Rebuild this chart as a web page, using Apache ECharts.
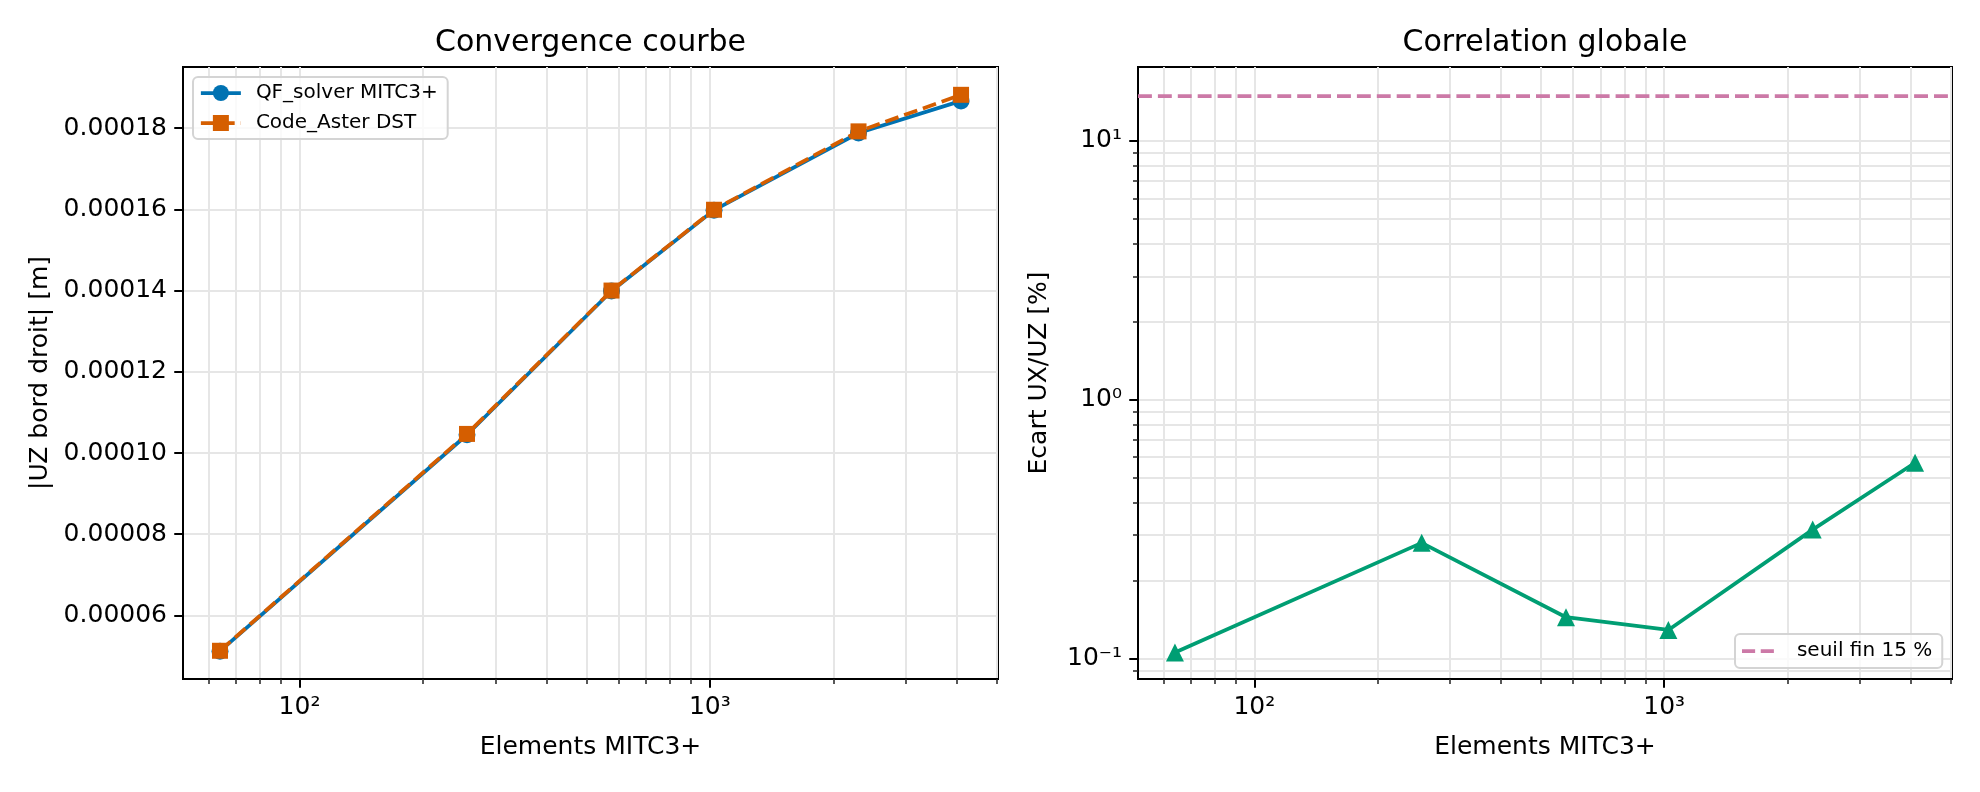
<!DOCTYPE html>
<html><head><meta charset="utf-8">
<script src="https://cdn.jsdelivr.net/npm/echarts@6/dist/echarts.min.js"></script>
<style>html,body{margin:0;padding:0;background:#fff}#c{width:1980px;height:792px}</style>
</head><body><div id="c"></div>
<script>
// ---- data ----
const ELEMENTS = [64, 256, 576, 1024, 2304, 4096];
const QF_UZ = [5.12e-5, 1.045e-4, 1.399e-4, 1.598e-4, 1.788e-4, 1.867e-4];
const CA_UZ = [5.13e-5, 1.047e-4, 1.400e-4, 1.599e-4, 1.792e-4, 1.882e-4];
const ECART = [0.1055, 0.28, 0.1445, 0.129, 0.315, 0.571];
const THRESHOLD = 15;
// ---- axis limits & ticks ----
const X_MIN = 52, X_MAX = 5040;
const X_TICKS = [100, 1000];
const X_TICK_LABELS = ['10²', '10³'];
const X_MINOR = [60, 70, 80, 90, 200, 300, 400, 500, 600, 700, 800, 900, 2000, 3000, 4000, 5000];
const YL_MIN = 4.435e-5, YL_MAX = 1.9505e-4;
const YL_TICKS = [6e-5, 8e-5, 1e-4, 1.2e-4, 1.4e-4, 1.6e-4, 1.8e-4];
const YL_TICK_LABELS = ['0.00006', '0.00008', '0.00010', '0.00012', '0.00014', '0.00016', '0.00018'];
const YR_MIN = 0.0834, YR_MAX = 19.3;
const YR_TICKS = [0.1, 1, 10];
const YR_TICK_LABELS = ['10⁻¹', '10⁰', '10¹'];
const YR_MINOR = [0.09, 0.2, 0.3, 0.4, 0.5, 0.6, 0.7, 0.8, 0.9, 2, 3, 4, 5, 6, 7, 8, 9];

const FONT = 'DejaVu Sans';
const GRID_COLOR = '#e6e6e6';
const BLUE = '#0072B2', ORANGE = '#D55E00', GREEN = '#009E73', PINK = '#CC79A7';

function lookup(ticks, labels) {
  return function (v) {
    for (let i = 0; i < ticks.length; i++) {
      if (Math.abs(v - ticks[i]) <= 1e-6 * Math.abs(ticks[i])) return labels[i];
    }
    return '';
  };
}
function zip(a, b) { return a.map((x, i) => [x, b[i]]); }

function majorAxis(type, gridIndex, min, max, ticks, labels, extra) {
  return Object.assign({
    type: type, gridIndex: gridIndex, min: min, max: max,
    axisLine: { show: true, lineStyle: { color: '#000', width: 2 } },
    axisTick: { show: true, customValues: ticks, length: 8.75, lineStyle: { color: '#000', width: 2 } },
    axisLabel: { show: true, customValues: ticks, formatter: lookup(ticks, labels), fontSize: 25, color: '#000', fontFamily: FONT, margin: 16 },
    splitLine: { show: true, lineStyle: { color: GRID_COLOR, width: 2 } },
    minorTick: { show: false }, minorSplitLine: { show: false }
  }, extra || {});
}
function minorAxis(type, gridIndex, min, max, ticks, extra) {
  return Object.assign({
    type: type, gridIndex: gridIndex, min: min, max: max,
    axisLine: { show: false },
    axisTick: { show: true, customValues: ticks, length: 5, lineStyle: { color: '#222', width: 1.5 } },
    axisLabel: { show: false },
    splitLine: { show: true, lineStyle: { color: GRID_COLOR, width: 2 } }
  }, extra || {});
}
const legendBase = {
  orient: 'vertical', itemGap: 10,
  backgroundColor: 'rgba(255,255,255,0.8)', borderColor: '#d4d4d4', borderWidth: 2, borderRadius: 5
};

const chart = echarts.init(document.getElementById('c'));
chart.setOption({
  animation: false,
  backgroundColor: '#fff',
  textStyle: { fontFamily: FONT },
  title: [
    { text: 'Convergence courbe', left: 590.5, top: 28, textAlign: 'center', padding: 0,
      textStyle: { fontSize: 30, fontWeight: 'normal', color: '#000', fontFamily: FONT } },
    { text: 'Correlation globale', left: 1545, top: 28, textAlign: 'center', padding: 0,
      textStyle: { fontSize: 30, fontWeight: 'normal', color: '#000', fontFamily: FONT } }
  ],
  grid: [
    { left: 183, top: 67, width: 815, height: 612, show: true, borderColor: '#000', borderWidth: 2, backgroundColor: 'transparent' },
    { left: 1138, top: 67, width: 814, height: 612, show: true, borderColor: '#000', borderWidth: 2, backgroundColor: 'transparent' }
  ],
  legend: [
    Object.assign({}, legendBase, {
      data: ['QF_solver MITC3+', 'Code_Aster DST'], left: 193, top: 77,
      itemWidth: 40, itemHeight: 20, padding: [6, 10, 6, 6],
      lineStyle: { width: 3.75 },
      textStyle: { fontSize: 20, color: '#000', fontFamily: FONT, padding: [0, 0, 0, 10] } }),
    Object.assign({}, legendBase, {
      data: [{ name: 'seuil fin 15 %', icon: 'path://M0,0H14V4H0Z M20,0H34V4H20Z' }], left: 1735, top: 634,
      itemWidth: 34, itemHeight: 3.75, padding: [7, 10, 7, 7],
      textStyle: { fontSize: 20, color: '#000', fontFamily: FONT, padding: [0, 0, 0, 17] } })
  ],
  xAxis: [
    majorAxis('log', 0, X_MIN, X_MAX, X_TICKS, X_TICK_LABELS, {
      position: 'bottom', name: 'Elements MITC3+', nameLocation: 'middle', nameGap: 56,
      nameTextStyle: { fontSize: 25, color: '#000', fontFamily: FONT } }),
    minorAxis('log', 0, X_MIN, X_MAX, X_MINOR, { position: 'bottom' }),
    majorAxis('log', 1, X_MIN, X_MAX, X_TICKS, X_TICK_LABELS, {
      position: 'bottom', name: 'Elements MITC3+', nameLocation: 'middle', nameGap: 56,
      nameTextStyle: { fontSize: 25, color: '#000', fontFamily: FONT } }),
    minorAxis('log', 1, X_MIN, X_MAX, X_MINOR, { position: 'bottom' })
  ],
  yAxis: [
    majorAxis('value', 0, YL_MIN, YL_MAX, YL_TICKS, YL_TICK_LABELS, {
      position: 'left', name: '|UZ bord droit| [m]', nameLocation: 'middle', nameGap: 130,
      nameTextStyle: { fontSize: 25, color: '#000', fontFamily: FONT } }),
    majorAxis('log', 1, YR_MIN, YR_MAX, YR_TICKS, YR_TICK_LABELS, {
      position: 'left', name: 'Ecart UX/UZ [%]', nameLocation: 'middle', nameGap: 86,
      nameTextStyle: { fontSize: 25, color: '#000', fontFamily: FONT } }),
    minorAxis('log', 1, YR_MIN, YR_MAX, YR_MINOR, { position: 'left' })
  ],
  series: [
    { name: 'QF_solver MITC3+', type: 'line', xAxisIndex: 0, yAxisIndex: 0, data: zip(ELEMENTS, QF_UZ),
      color: BLUE, lineStyle: { width: 3.75, color: BLUE }, symbol: 'circle', symbolSize: 17,
      itemStyle: { color: BLUE }, z: 3 },
    { name: 'Code_Aster DST', type: 'line', xAxisIndex: 0, yAxisIndex: 0, data: zip(ELEMENTS, CA_UZ),
      color: ORANGE, lineStyle: { width: 3.75, color: ORANGE, type: [13.9, 6] }, symbol: 'rect', symbolSize: 16,
      itemStyle: { color: ORANGE }, z: 4 },
    { name: 'ecart', type: 'line', xAxisIndex: 2, yAxisIndex: 1, data: zip(ELEMENTS, ECART),
      color: GREEN, lineStyle: { width: 3.75, color: GREEN }, symbol: 'triangle', symbolSize: 18,
      itemStyle: { color: GREEN }, z: 3 },
    { name: 'seuil fin 15 %', type: 'line', xAxisIndex: 2, yAxisIndex: 1, data: [],
      color: PINK, symbol: 'none', lineStyle: { width: 3.75, color: PINK, type: [13.9, 6] },
      itemStyle: { color: PINK },
      markLine: { silent: true, symbol: 'none', label: { show: false },
        lineStyle: { width: 3.75, color: PINK, type: [13.9, 6] },
        emphasis: { disabled: true },
        data: [{ yAxis: THRESHOLD }] }, z: 3 }
  ]
});
</script></body></html>
